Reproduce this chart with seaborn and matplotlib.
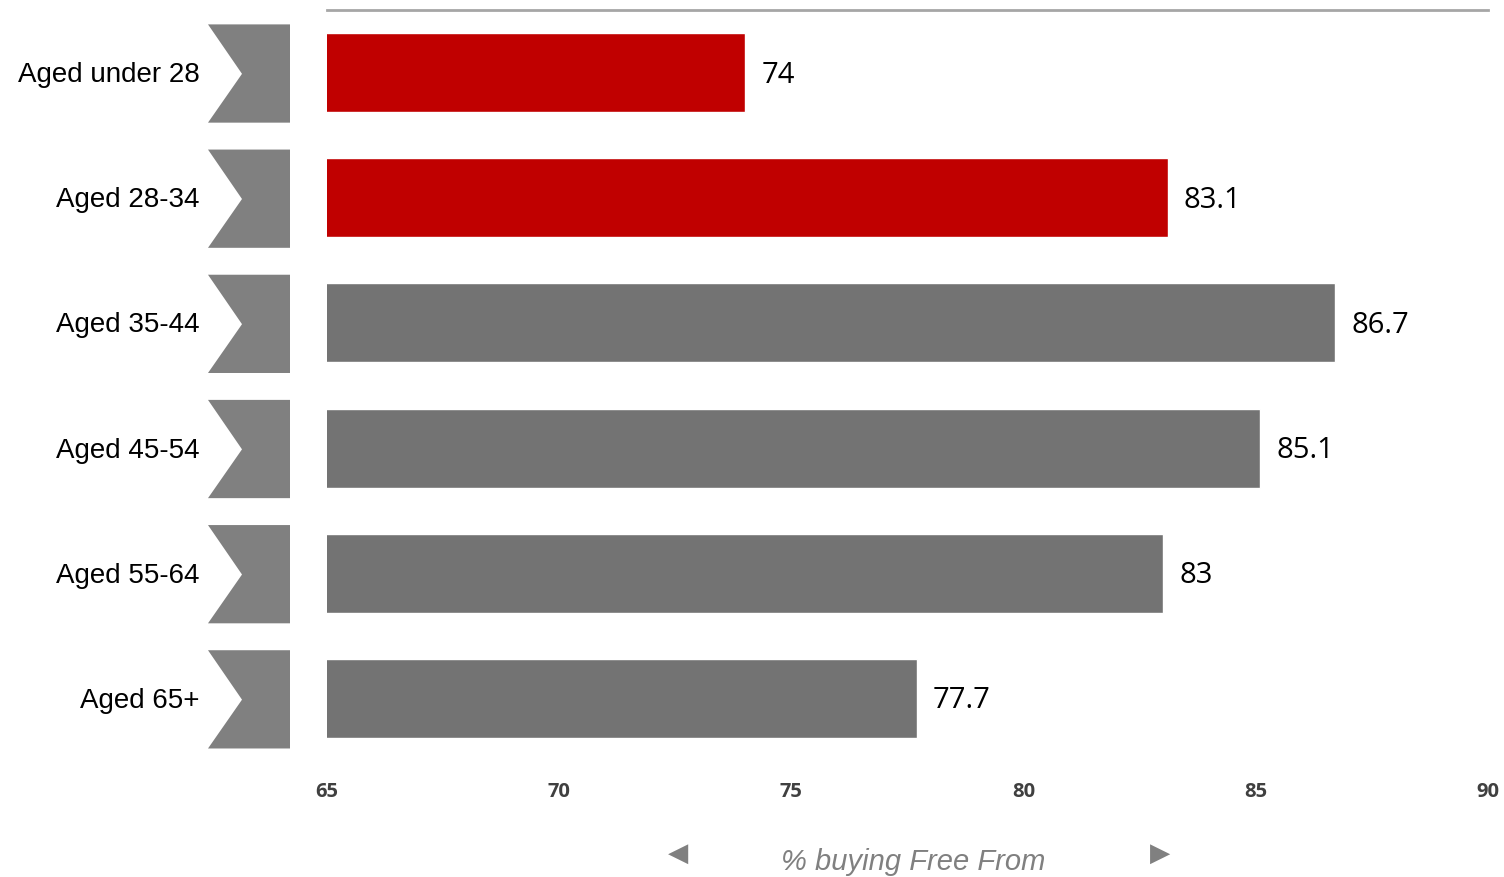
import matplotlib
matplotlib.use("Agg")
import matplotlib.pyplot as plt
import matplotlib.transforms as mtransforms
from matplotlib.patches import Polygon
import seaborn as sns
import pandas as pd

# Share of shoppers buying "Free From" products, by age group
age_groups = ["Aged under 28", "Aged 28-34", "Aged 35-44", "Aged 45-54", "Aged 55-64", "Aged 65+"]
pct_buying = [74, 83.1, 86.7, 85.1, 83, 77.7]
highlight = ["young", "young", "other", "other", "other", "other"]
x_ticks = [65, 70, 75, 80, 85, 90]

df = pd.DataFrame({"group": age_groups, "pct": pct_buying, "band": highlight})
palette = {"young": "#C00000", "other": "#737373"}

sns.set_style("white")
fig = plt.figure(figsize=(15.04, 8.77), dpi=100)
ax = fig.add_axes([327 / 1504, 1 - 761 / 877, (1488 - 327) / 1504, (761 - 10) / 877])

sns.barplot(data=df, x="pct", y="group", hue="band", palette=palette, order=age_groups,
            orient="h", width=0.63, dodge=False, legend=False, ax=ax, saturation=1)

ax.set_xlim(65, 90)
ax.set_ylim(5.5, -0.5)
ax.set_xticks(x_ticks)
ax.set_xticklabels([str(t) for t in x_ticks])
for lbl in ax.get_xticklabels():
    lbl.set_fontfamily("Open Sans")
    lbl.set_fontweight("bold")
    lbl.set_fontsize(14.5)
    lbl.set_color("#404040")
ax.tick_params(axis="x", length=0, pad=15)
ax.set_yticks([])
ax.set_ylabel("")
ax.set_xlabel("")
for side in ["left", "right", "bottom"]:
    ax.spines[side].set_visible(False)
ax.spines["top"].set_color("#A6A6A6")
ax.spines["top"].set_linewidth(2)

# Value labels at the end of each bar
for i, v in enumerate(pct_buying):
    ax.text(v + 0.35, i + 0.02, f"{v:g}", va="center", ha="left", fontsize=21,
            fontfamily="Open Sans", color="black")

# Chevron markers and category labels on the left
trans = mtransforms.blended_transform_factory(fig.transFigure, ax.transData)
x0, x1, xn = 208 / 1504, 290 / 1504, 242 / 1504
for i, name in enumerate(age_groups):
    top, bot = i - 0.385, i + 0.40
    chev = Polygon([(x0, top), (x1, top), (x1, bot), (x0, bot), (xn, i + 0.01)],
                   closed=True, facecolor="#808080", edgecolor="none",
                   transform=trans, clip_on=False)
    ax.add_patch(chev)
    ax.text(200 / 1504, i + 0.02, name, transform=trans, ha="right", va="center",
            fontsize=20, fontfamily="Liberation Sans", color="black")

# Axis caption with arrows
fig.text(913 / 1504, 1 - 862 / 877, "% buying Free From", ha="center", va="center",
         fontsize=21, fontstyle="italic", fontfamily="Liberation Sans", color="#808080")
fig.text(678 / 1504, 1 - 854 / 877, "\u25C0", ha="center", va="center",
         fontsize=19, fontfamily="DejaVu Sans", color="#808080")
fig.text(1160 / 1504, 1 - 854 / 877, "\u25B6", ha="center", va="center",
         fontsize=19, fontfamily="DejaVu Sans", color="#808080")

fig.savefig("out.png", dpi=100)
